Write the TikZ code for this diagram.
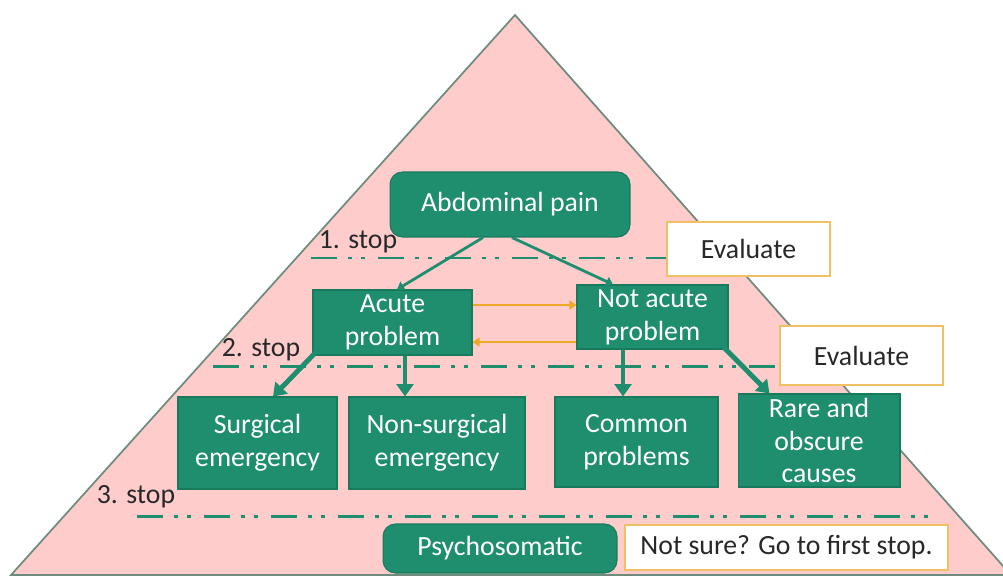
\documentclass[tikz,border=0pt]{standalone}
\usepackage{fontspec}
\setmainfont{Carlito}
\usetikzlibrary{arrows.meta}
\definecolor{boxgreen}{RGB}{30,142,110}
\definecolor{edgegreen}{RGB}{24,122,92}
\definecolor{pyrpink}{RGB}{255,204,204}
\definecolor{pyredge}{RGB}{110,140,125}
\definecolor{evalorange}{RGB}{242,192,100}
\definecolor{swaporange}{RGB}{240,168,40}
\definecolor{stoptext}{RGB}{40,40,40}

\begin{document}
\begin{tikzpicture}[x=0.02cm, y=-0.02cm,
    every node/.style={font=\fontsize{15.8}{18.6}\selectfont, align=center, inner sep=0pt},
    gbox/.style={fill=boxgreen, draw=edgegreen, line width=0.6pt, text=white},
    rbox/.style={gbox, rounded corners=0.25cm},
    evalbox/.style={fill=white, draw=evalorange, line width=1.2pt, text=stoptext},
    stoplabel/.style={text=stoptext},
    stopline/.style={draw=boxgreen, line width=1.7pt,
      dash pattern=on 0.52cm off 0.22cm on 0.08cm off 0.18cm on 0.08cm off 0.26cm},
    splitarrow/.style={-{Triangle[length=4pt,width=5.5pt]}, draw=boxgreen, line width=1.6pt},
    swaparrow/.style={-{Triangle[length=4pt,width=5pt]}, draw=swaporange, line width=1.1pt},
    bigarrow/.style={-{Triangle[length=7pt,width=9.5pt]}, draw=boxgreen, line width=2.8pt}
  ]
  \useasboundingbox (0,0) rectangle (1003,575);

  % the pyramid
  \begin{scope}
    \clip (0,0) rectangle (1003,575);
    \draw[fill=pyrpink, draw=pyredge, line width=1pt] (515,15) -- (1011,575) -- (11,575) -- cycle;
  \end{scope}

  \node[rbox, minimum width=4.8cm, minimum height=1.3cm] (pain) at (510,204.5) {Abdominal pain};
  \node[gbox, minimum width=3.18cm, minimum height=1.3cm] (acute) at (392.5,322.5) {Acute\\problem};
  \node[gbox, minimum width=3.02cm, minimum height=1.28cm] (notacute) at (652.5,317) {Not acute\\problem};
  \node[evalbox, minimum width=3.26cm, minimum height=1.08cm] (eval1) at (748.5,249) {Evaluate};
  \node[evalbox, minimum width=3.26cm, minimum height=1.18cm] (eval2) at (861.5,355.5) {Evaluate};

  \node[gbox, minimum width=3.18cm, minimum height=1.84cm] (surg) at (257.5,443) {Surgical\\emergency};
  \node[gbox, minimum width=3.52cm, minimum height=1.84cm] (nonsurg) at (437,443) {Non-surgical\\emergency};
  \node[gbox, minimum width=3.26cm, minimum height=1.8cm] (common) at (636.5,442) {Common\\problems};
  \node[gbox, minimum width=3.24cm, minimum height=1.86cm] (rare) at (819,440.5) {Rare and\\obscure\\causes};

  \node[rbox, minimum width=4.68cm, minimum height=0.98cm] (psycho) at (500,548.5) {Psychosomatic};
  \node[evalbox, minimum width=6.46cm, minimum height=0.9cm] (notsure) at (786.5,547.5) {Not sure? Go to first stop.};

  % stops
  \node[stoplabel] (stop1) at (358,242) {1. stop};
  \node[stoplabel] (stop2) at (261,350) {2. stop};
  \node[stoplabel] (stop3) at (136,497) {3. stop};

  \coordinate (l1) at (311,258);
  \coordinate (l2) at (213,366);
  \coordinate (l3s) at (137,516);
  \coordinate (l3e) at (937,516);
  \draw[stopline] (l1) -- (l1 -| eval1.west);
  \draw[stopline] (l2) -- (l2 -| eval2.west);
  \draw[stopline] (l3s) -- (l3e);

  % first split
  \draw[splitarrow] ([xshift=-0.54cm]pain.south) -- ([xshift=0.09cm]acute.north);
  \draw[splitarrow] ([xshift=0.04cm]pain.south) -- ([xshift=-0.79cm]notacute.north);

  % back and forth
  \coordinate (fwd) at ([yshift=0.35cm]acute.east);
  \coordinate (back) at ([yshift=-0.39cm]acute.east);
  \draw[swaparrow] (fwd) -- (fwd -| notacute.west);
  \draw[swaparrow] (back -| notacute.west) -- (back);

  % second split
  \coordinate (ns) at ([xshift=0.25cm]acute.south);
  \coordinate (cp) at ([xshift=-0.59cm]notacute.south);
  \draw[bigarrow] ([xshift=0.1cm,yshift=0.1cm]acute.south west) -- ([xshift=0.31cm]surg.north);
  \draw[bigarrow] (ns) -- (ns |- nonsurg.north);
  \draw[bigarrow] (cp) -- (cp |- common.north);
  \draw[bigarrow] ([xshift=-0.1cm,yshift=0.05cm]notacute.south east) -- ([xshift=0.64cm]rare.north west);
\end{tikzpicture}
\end{document}
